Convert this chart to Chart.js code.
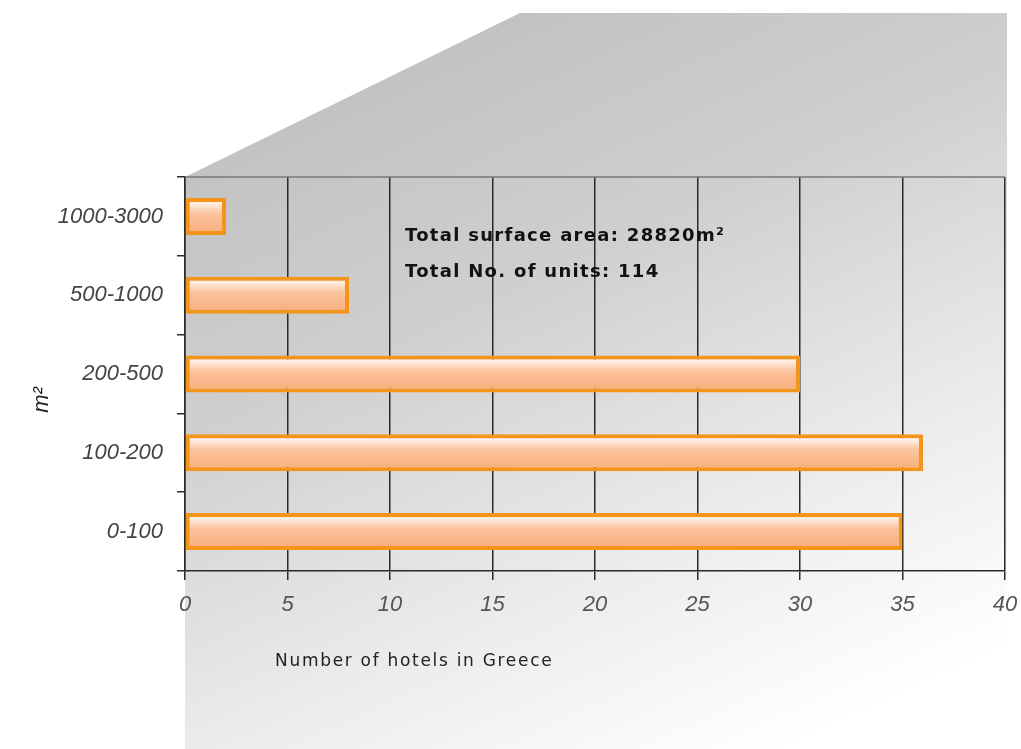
<!DOCTYPE html>
<html>
<head>
<meta charset="utf-8">
<script src="https://cdn.jsdelivr.net/npm/chart.js@4"></script>
<style>
  html, body { margin: 0; padding: 0; background: #fff; }
  #wrap { width: 1021px; height: 749px; }
</style>
</head>
<body>
<div id="wrap"><canvas id="hotelChart" width="1021" height="749"></canvas></div>
<script>
const sizeClasses = ['1000-3000', '500-1000', '200-500', '100-200', '0-100'];
const hotelCounts = [2, 8, 30, 36, 35];
const xTicks = [0, 5, 10, 15, 20, 25, 30, 35, 40];
const noteLines = ['Total surface area: 28820m\u00b2', 'Total No. of units: 114'];
const xTitle = 'Number of hotels in Greece';
const yTitle = 'm\u00b2';

// grey backdrop with the slanted top, and the loose text
const backdrop = {
  id: 'backdrop',
  beforeDraw(chart) {
    const c = chart.ctx;
    const a = chart.chartArea;
    c.save();
    c.fillStyle = '#fff';
    c.fillRect(0, 0, chart.width, chart.height);
    const g = c.createLinearGradient(420, 13, 760, 760);
    g.addColorStop(0, '#c0c0c0');
    g.addColorStop(0.35, '#cfcfcf');
    g.addColorStop(0.7, '#ebebeb');
    g.addColorStop(1, '#ffffff');
    c.fillStyle = g;
    c.beginPath();
    c.moveTo(a.left, a.top);
    c.lineTo(520, 13);
    c.lineTo(a.right + 2, 13);
    c.lineTo(a.right + 2, chart.height);
    c.lineTo(a.left, chart.height);
    c.closePath();
    c.fill();
    c.restore();
  },
  afterDraw(chart) {
    const c = chart.ctx;
    const a = chart.chartArea;
    c.save();
    c.strokeStyle = '#777';
    c.lineWidth = 1.5;
    c.beginPath();
    c.moveTo(a.left, a.top);
    c.lineTo(a.right, a.top);
    c.stroke();

    c.fillStyle = '#111';
    c.font = 'bold 18px "DejaVu Sans"';
    c.letterSpacing = '1.3px';
    c.textBaseline = 'middle';
    c.fillText(noteLines[0], 405, 236);
    c.fillText(noteLines[1], 405, 272);

    c.fillStyle = '#222';
    c.font = '17px "DejaVu Sans"';
    c.letterSpacing = '1.7px';
    c.fillText(xTitle, 275, 662);

    c.letterSpacing = '0px';
    c.translate(42, 400);
    c.rotate(-Math.PI / 2);
    c.textAlign = 'center';
    c.fillStyle = '#222';
    c.font = 'italic 22px "Liberation Sans"';
    c.fillText(yTitle, 0, 0);
    c.restore();
  }
};

function barFill(context) {
  const chart = context.chart;
  const y = chart.scales.y;
  if (!chart.chartArea || !y) return '#f9b98c';
  const mid = y.getPixelForValue(context.dataIndex);
  const half = (y.height / sizeClasses.length) * 0.47 / 2;
  const g = chart.ctx.createLinearGradient(0, mid - half, 0, mid + half);
  g.addColorStop(0, '#f9b890');
  g.addColorStop(0.14, '#fff0e6');
  g.addColorStop(0.26, '#fddcc6');
  g.addColorStop(0.42, '#fbc39e');
  g.addColorStop(1, '#f8ab78');
  return g;
}

new Chart(document.getElementById('hotelChart'), {
  type: 'bar',
  data: {
    labels: sizeClasses,
    datasets: [{
      data: hotelCounts,
      backgroundColor: barFill,
      borderColor: '#f2951a',
      borderWidth: 4,
      borderSkipped: false,
      barPercentage: 0.47,
      categoryPercentage: 1
    }]
  },
  options: {
    indexAxis: 'y',
    responsive: false,
    animation: false,
    layout: { padding: { top: 177, right: 16, left: 0, bottom: 0 } },
    plugins: { legend: { display: false }, tooltip: { enabled: false } },
    scales: {
      x: {
        min: 0,
        max: 40,
        afterBuildTicks(scale) { scale.ticks = xTicks.map(v => ({ value: v })); },
        afterFit(scale) {
          scale.height = 749 - 571;
          scale.paddingRight = 0;
          scale.paddingLeft = 0;
        },
        grid: { color: '#2a2a2a', lineWidth: 1.5, tickLength: 9 },
        border: { color: '#2a2a2a', width: 1.5 },
        ticks: {
          padding: 12,
          color: '#555',
          font: { family: '"Liberation Sans"', size: 22, style: 'italic' }
        }
      },
      y: {
        afterFit(scale) { scale.width = 185; },
        grid: { drawOnChartArea: false, color: '#2a2a2a', lineWidth: 1.5, tickLength: 8 },
        border: { color: '#2a2a2a', width: 1.5 },
        ticks: {
          padding: 14,
          color: '#444',
          font: { family: '"Liberation Sans"', size: 22, style: 'italic' }
        }
      }
    }
  },
  plugins: [backdrop]
});
</script>
</body>
</html>
